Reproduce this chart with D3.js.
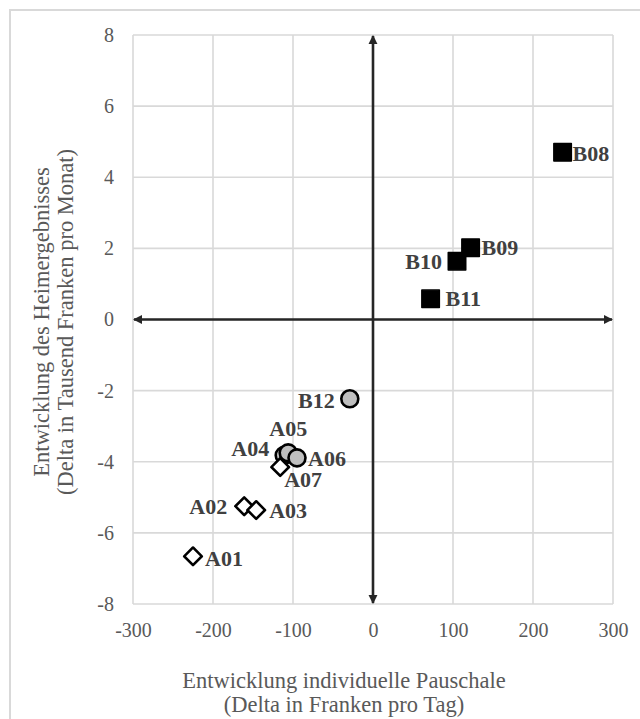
<!DOCTYPE html>
<html>
<head>
<meta charset="utf-8">
<script src="https://cdn.jsdelivr.net/npm/d3@7"></script>
<style>
  html, body { margin: 0; padding: 0; background: #ffffff; }
  svg { display: block; }
</style>
</head>
<body>
<svg id="chart" width="640" height="719"></svg>
<script>
// Homes and their change in flat rate (x) vs. change in operating result (y)
const names = ["A01", "A02", "A03", "A04", "A05", "A06", "A07", "B08", "B09", "B10", "B11", "B12"];
const pauschaleDelta = [-225, -161, -146, -111, -106, -95, -116, 237, 122, 105, 72, -29];
const ergebnisDelta = [-6.66, -5.25, -5.36, -3.82, -3.75, -3.89, -4.15, 4.70, 2.02, 1.64, 0.58, -2.23];
const markerShape = ["diamond", "diamond", "diamond", "circle", "circle", "circle", "diamond",
                     "square", "square", "square", "square", "circle"];

const xTicks = [-300, -200, -100, 0, 100, 200, 300];
const yTicks = [-8, -6, -4, -2, 0, 2, 4, 6, 8];

const xTitle = ["Entwicklung individuelle Pauschale", "(Delta in Franken pro Tag)"];
const yTitle = ["Entwicklung des Heimergebnisses", "(Delta in Tausend Franken pro Monat)"];

// Label placement relative to each marker centre
const labelPlacement = {
  A01: { dx: 12, dy: 2, anchor: "start" },
  A02: { dx: -17, dy: 0, anchor: "end" },
  A03: { dx: 13, dy: 0, anchor: "start" },
  A04: { dx: -15, dy: -7, anchor: "end" },
  A05: { dx: 0, dy: -25, anchor: "middle" },
  A06: { dx: 11, dy: 0, anchor: "start" },
  A07: { dx: 4, dy: 12, anchor: "start" },
  B08: { dx: 10, dy: 1, anchor: "start" },
  B09: { dx: 11, dy: 0, anchor: "start" },
  B10: { dx: -15, dy: 0, anchor: "end" },
  B11: { dx: 15, dy: -1, anchor: "start" },
  B12: { dx: -15, dy: 1, anchor: "end" }
};

const points = names.map((n, i) => ({
  name: n, x: pauschaleDelta[i], y: ergebnisDelta[i], shape: markerShape[i]
}));

const svg = d3.select("#chart");
const plot = { left: 133, right: 613, top: 35, bottom: 604 };

const x = d3.scaleLinear().domain([-300, 300]).range([plot.left, plot.right]);
const y = d3.scaleLinear().domain([-8, 8]).range([plot.bottom, plot.top]);

const serif = "'Liberation Serif', 'Times New Roman', serif";

// Outer chart frame
svg.append("rect")
  .attr("x", 10).attr("y", 10)
  .attr("width", 660).attr("height", 740)
  .attr("fill", "none")
  .attr("stroke", "#d9d9d9")
  .attr("stroke-width", 2);

// Gridlines
const grid = svg.append("g").attr("class", "grid");
grid.selectAll("line.v").data(xTicks).join("line")
  .attr("class", "v")
  .attr("x1", d => x(d)).attr("x2", d => x(d))
  .attr("y1", plot.top).attr("y2", plot.bottom)
  .attr("stroke", "#d9d9d9").attr("stroke-width", 1.6);
grid.selectAll("line.h").data(yTicks).join("line")
  .attr("class", "h")
  .attr("x1", plot.left).attr("x2", plot.right)
  .attr("y1", d => y(d)).attr("y2", d => y(d))
  .attr("stroke", "#d9d9d9").attr("stroke-width", 1.6);

// Tick labels via d3 axes (tick lines hidden), plain hyphen for negatives
const fmt = d => String(d);
const xAxis = svg.append("g")
  .attr("transform", `translate(0,${plot.bottom})`)
  .call(d3.axisBottom(x).tickValues(xTicks).tickSize(0).tickPadding(19).tickFormat(fmt));
const yAxis = svg.append("g")
  .attr("transform", `translate(${plot.left},0)`)
  .call(d3.axisLeft(y).tickValues(yTicks).tickSize(0).tickPadding(19).tickFormat(fmt));
[xAxis, yAxis].forEach(a => {
  a.select(".domain").remove();
  a.selectAll("text")
    .attr("font-family", serif)
    .attr("font-size", 20)
    .attr("fill", "#595959");
});

// Central cross with arrowheads at both ends
const defs = svg.append("defs");
defs.append("marker")
  .attr("id", "arrow")
  .attr("viewBox", "0 0 10 10")
  .attr("refX", 9).attr("refY", 5)
  .attr("markerWidth", 3.6).attr("markerHeight", 3.6)
  .attr("markerUnits", "strokeWidth")
  .attr("orient", "auto-start-reverse")
  .append("path")
  .attr("d", "M0,0 L10,5 L0,10 Z")
  .attr("fill", "#262626");

svg.append("line")
  .attr("x1", x(-300) + 1).attr("x2", x(300) - 1)
  .attr("y1", y(0)).attr("y2", y(0))
  .attr("stroke", "#262626").attr("stroke-width", 2.6)
  .attr("marker-start", "url(#arrow)")
  .attr("marker-end", "url(#arrow)");
svg.append("line")
  .attr("x1", x(0)).attr("x2", x(0))
  .attr("y1", y(8) + 1).attr("y2", y(-8) - 1)
  .attr("stroke", "#262626").attr("stroke-width", 2.6)
  .attr("marker-start", "url(#arrow)")
  .attr("marker-end", "url(#arrow)");

// Markers
const markers = svg.append("g").attr("class", "markers");
markers.selectAll("path").data(points).join("path")
  .attr("transform", d => `translate(${x(d.x)},${y(d.y)})` + (d.shape === "diamond" ? " rotate(45)" : ""))
  .attr("d", d => {
    if (d.shape === "circle") return d3.symbol(d3.symbolCircle, Math.PI * 8.5 * 8.5)();
    if (d.shape === "square") return d3.symbol(d3.symbolSquare, 17.5 * 17.5)();
    return d3.symbol(d3.symbolSquare, 12.5 * 12.5)();
  })
  .attr("fill", d => d.shape === "square" ? "#000000" : d.shape === "circle" ? "#bfbfbf" : "#ffffff")
  .attr("stroke", "#000000")
  .attr("stroke-width", d => d.shape === "square" ? 1.5 : 2.6)
  .attr("stroke-linejoin", "round");

// Point labels
svg.append("g").attr("class", "labels")
  .selectAll("text").data(points).join("text")
  .attr("x", d => x(d.x) + labelPlacement[d.name].dx)
  .attr("y", d => y(d.y) + labelPlacement[d.name].dy)
  .attr("dy", "0.35em")
  .attr("text-anchor", d => labelPlacement[d.name].anchor)
  .attr("font-family", serif)
  .attr("font-weight", "bold")
  .attr("font-size", 22)
  .attr("fill", "#404040")
  .text(d => d.name);

// Axis titles
svg.append("text")
  .attr("x", 344).attr("y", 688)
  .attr("text-anchor", "middle")
  .attr("font-family", serif)
  .attr("font-size", 22.5)
  .attr("fill", "#595959")
  .selectAll("tspan").data(xTitle).join("tspan")
  .attr("x", 344)
  .attr("dy", (d, i) => i === 0 ? 0 : 23.5)
  .text(d => d);

svg.append("text")
  .attr("transform", "translate(49,322) rotate(-90)")
  .attr("text-anchor", "middle")
  .attr("font-family", serif)
  .attr("font-size", 22.5)
  .attr("fill", "#595959")
  .selectAll("tspan").data(yTitle).join("tspan")
  .attr("x", 0)
  .attr("dy", (d, i) => i === 0 ? 0 : 23.5)
  .text(d => d);
</script>
</body>
</html>
